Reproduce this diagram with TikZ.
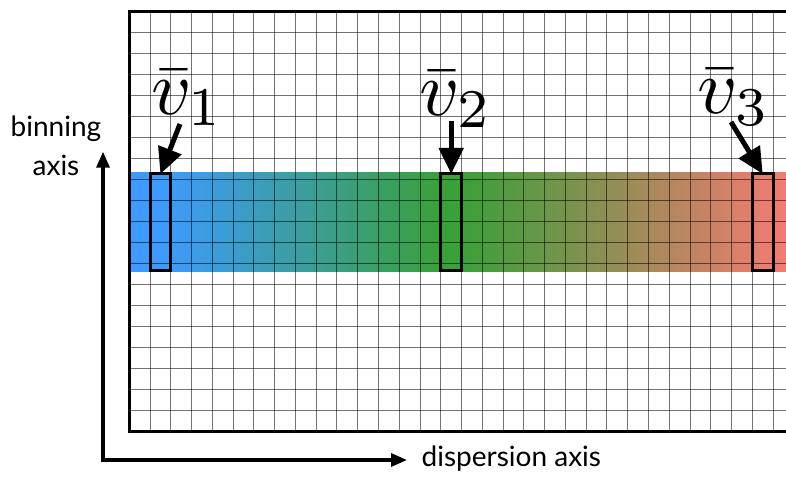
\documentclass[tikz,border=0pt]{standalone}
\usepackage[no-math]{fontspec}
\newfontfamily\axisfont{Lato}
\usetikzlibrary{arrows.meta}
\definecolor{specblue}{RGB}{61,155,255}
\definecolor{specgreen}{RGB}{58,160,58}
\definecolor{specred}{RGB}{246,122,115}
\pgfdeclarehorizontalshading{spectrum}{100bp}{color(0bp)=(specblue); color(25bp)=(specblue); color(27.6bp)=(specblue); color(48.6bp)=(specgreen); color(50.3bp)=(specgreen); color(75bp)=(specred); color(100bp)=(specred)}
\tikzset{
  gridline/.style={black, opacity=0.55, line width=1.2pt},
  border/.style={black, line width=3pt},
  slitbox/.style={draw=black, line width=3pt, minimum width=20.77pt, minimum height=96.5pt, inner sep=0pt, outer sep=0pt},
  ptr/.style={line width=5pt, -{Triangle[length=26pt,width=24pt]}},
  vlabel/.style={anchor=base west, inner sep=0pt, scale=7.8},
  axlabel/.style={inner sep=0pt, font=\axisfont\fontsize{28}{32}\selectfont},
}
\begin{document}
\begin{tikzpicture}[x=1pt,y=-1pt]
\useasboundingbox[fill=white] (0,0) rectangle (786,476);
% spectrum band
\shade[shading=spectrum] (129.5,172.7) rectangle (786,271.7);
% grid
\foreach \k in {0,...,30} \draw[gridline] ({floor(150+20.77*\k)+0.5},11.7) -- ({floor(150+20.77*\k)+0.5},431.7);
\foreach \k in {1,...,19} \draw[gridline] (129.5,{11.5+21*\k}) -- (786,{11.5+21*\k});
\draw[border] (790,11.7) -- (129.5,11.7) -- (129.5,431.7) -- (790,431.7);
% slit boxes
\node[slitbox] (b1) at (160.4,222.2) {};
\node[slitbox] (b2) at (451.2,222.2) {};
\node[slitbox] (b3) at (762.7,222.2) {};
% labels
\node[vlabel] (l1) at (149.5,114) {$\bar{v}_1$};
\node[vlabel] (l2) at (418,115.5) {$\bar{v}_2$};
\node[vlabel] (l3) at (696,113.5) {$\bar{v}_3$};
\coordinate (a1) at (180,124);
\coordinate (a2) at (451.2,121);
\coordinate (a3) at (731,122);
\draw[ptr] (a1) -- (b1.north);
\draw[ptr] (a2) -- (b2.north);
\draw[ptr] (a3) -- (b3.north);
% axes
\coordinate (corner) at (103,460);
\coordinate (ytip) at (103,151.7);
\coordinate (xtip) at (407,460);
\draw[line width=3.2pt, {Triangle[length=16pt,width=13pt]}-{Triangle[length=16pt,width=13pt]}] (ytip) -- (corner) -- (xtip);
\node[axlabel, anchor=base west] (xl) at (421.5,466.7) {dispersion axis};
\node[axlabel, anchor=base] (yl1) at (56,136.7) {binning};
\node[axlabel, anchor=base] (yl2) at (56,175) {axis};
\end{tikzpicture}
\end{document}
